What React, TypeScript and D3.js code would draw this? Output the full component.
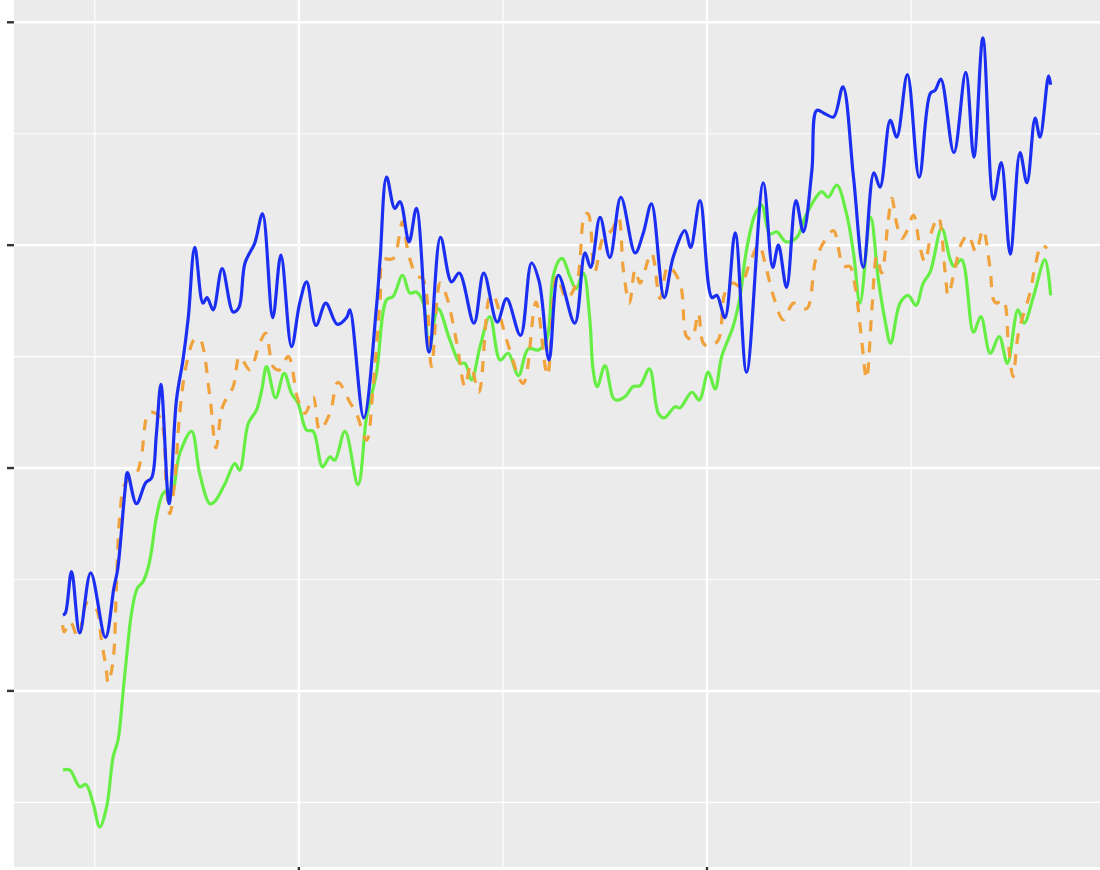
import * as d3 from "d3";

const WIDTH = 1100;
const HEIGHT = 870;
const MARGIN = { top: 0, right: 0, bottom: 3, left: 14 };

// axis breaks (the panel carries no labels, only ticks)
const X_MAJOR = [100, 200];
const X_MINOR = [50, 150, 250];
const Y_MAJOR = [40, 60, 80, 100];
const Y_MINOR = [30, 50, 70, 90];
const X_DOMAIN = [30.2, 296.3];
const Y_DOMAIN = [24.2, 102.0];

// series 1 (blue, solid)
const blueX = [42.2, 42.8, 44.3, 46.3, 49.0, 52.6, 54.7, 55.6, 57.4, 58.0, 60.2, 62.5, 63.9, 65.1, 66.2, 68.2, 70.0, 71.6, 72.9, 74.5, 76.5, 77.5, 79.0, 81.2, 83.9, 85.3, 86.8, 89.2, 91.1, 93.6, 95.6, 98.2, 100.2, 101.9, 104.2, 106.6, 109.4, 111.7, 112.5, 115.9, 119.0, 119.9, 121.5, 123.5, 124.8, 127.0, 128.8, 131.9, 134.7, 137.4, 139.3, 142.9, 145.3, 148.6, 150.9, 154.3, 157.0, 158.9, 161.3, 163.6, 167.6, 170.1, 171.5, 173.8, 176.2, 178.9, 182.4, 184.4, 186.4, 189.5, 191.7, 194.6, 196.0, 198.3, 201.2, 202.4, 204.4, 206.9, 209.7, 213.8, 216.1, 217.5, 219.5, 221.8, 223.6, 225.7, 226.9, 228.9, 231.0, 233.3, 235.9, 238.3, 240.9, 242.4, 244.9, 246.5, 249.1, 252.0, 254.7, 255.9, 257.3, 260.5, 263.4, 265.4, 267.6, 270.2, 272.1, 274.3, 276.7, 278.4, 280.4, 281.6, 283.7, 284.2];
const blueY = [46.8, 47.0, 50.7, 45.2, 50.6, 44.8, 49.3, 50.9, 58.0, 59.6, 56.8, 58.7, 59.1, 63.1, 67.5, 56.8, 66.1, 69.7, 73.5, 79.8, 74.8, 75.3, 74.2, 77.9, 74.0, 74.4, 78.4, 80.2, 82.8, 73.5, 79.1, 70.9, 74.8, 76.7, 72.8, 74.8, 72.9, 73.5, 74.2, 64.5, 74.4, 78.7, 86.1, 83.3, 83.9, 80.3, 83.3, 70.4, 80.7, 76.7, 77.5, 73.0, 77.5, 73.1, 75.2, 71.9, 78.4, 76.7, 69.7, 77.3, 73.0, 79.3, 78.0, 82.5, 78.9, 84.3, 79.3, 81.1, 83.7, 75.3, 78.9, 81.3, 79.8, 84.0, 75.3, 75.5, 73.5, 81.1, 68.6, 85.6, 78.0, 80.0, 76.2, 84.0, 81.2, 86.7, 92.1, 91.8, 91.5, 94.2, 86.1, 78.0, 86.5, 85.2, 91.2, 89.7, 95.3, 86.1, 93.6, 93.9, 94.9, 88.3, 95.5, 87.9, 98.6, 84.1, 87.4, 79.2, 88.3, 85.6, 91.4, 89.7, 95.2, 94.4];

// series 2 (orange, dashed)
const orangeX = [42.1, 42.5, 44.0, 45.9, 48.1, 50.4, 51.6, 52.7, 53.3, 54.5, 55.3, 56.1, 57.4, 60.2, 61.4, 62.7, 63.5, 65.9, 67.6, 68.4, 69.6, 70.8, 72.5, 74.5, 75.7, 78.2, 79.7, 81.3, 83.9, 85.5, 88.0, 90.4, 91.9, 93.7, 95.2, 97.4, 99.8, 101.5, 103.5, 105.1, 107.6, 109.6, 112.5, 114.1, 116.6, 118.2, 119.9, 120.7, 123.1, 125.4, 126.8, 128.8, 130.5, 132.5, 134.6, 136.2, 138.7, 140.7, 142.1, 144.1, 146.8, 147.6, 150.9, 155.0, 158.1, 160.9, 163.2, 165.6, 168.1, 170.1, 170.9, 172.5, 174.6, 176.6, 178.3, 179.5, 181.0, 182.4, 183.6, 186.4, 188.5, 190.5, 193.4, 195.0, 196.3, 197.9, 199.1, 200.7, 202.8, 204.4, 206.4, 208.1, 210.5, 212.7, 214.6, 216.3, 218.7, 221.2, 224.4, 226.9, 231.0, 232.2, 233.4, 235.0, 236.3, 237.9, 239.1, 240.4, 241.6, 242.8, 244.4, 245.3, 246.5, 247.7, 248.9, 250.6, 252.2, 253.4, 255.1, 256.7, 258.3, 259.1, 260.7, 262.4, 264.0, 265.9, 267.6, 269.4, 270.2, 271.0, 272.6, 273.9, 275.0, 276.3, 279.2, 280.4, 282.0, 283.3];
const orangeY = [45.9, 45.3, 46.2, 44.8, 47.9, 47.3, 44.6, 42.2, 40.7, 42.8, 49.4, 55.6, 58.6, 59.5, 61.0, 64.6, 65.0, 64.6, 58.0, 55.9, 58.9, 64.9, 69.4, 71.6, 71.6, 66.4, 61.8, 65.5, 67.3, 70.0, 68.8, 71.2, 72.1, 69.1, 68.8, 70.0, 66.1, 64.9, 66.4, 63.4, 64.9, 67.7, 65.9, 64.9, 62.5, 67.3, 75.1, 78.7, 78.8, 82.1, 79.3, 77.3, 76.9, 69.1, 76.6, 75.4, 71.2, 67.3, 69.2, 66.8, 75.4, 75.5, 71.5, 67.6, 74.9, 68.3, 77.2, 75.2, 76.7, 82.8, 82.8, 77.6, 80.7, 81.3, 82.5, 77.8, 74.8, 77.8, 76.6, 79.3, 75.2, 78.1, 76.6, 71.8, 71.6, 73.9, 71.2, 70.9, 71.5, 75.7, 76.6, 76.3, 78.4, 80.0, 77.8, 75.4, 73.3, 74.8, 74.3, 79.0, 81.3, 79.7, 78.1, 78.1, 76.3, 71.5, 68.0, 74.2, 79.0, 77.5, 82.2, 84.2, 81.9, 80.6, 81.2, 82.7, 79.8, 78.5, 81.3, 82.5, 77.8, 75.5, 77.8, 80.2, 80.9, 79.4, 81.4, 77.8, 75.1, 74.8, 75.1, 70.9, 68.2, 72.1, 75.8, 78.1, 80.0, 79.7];

// series 3 (green, solid)
const greenX = [42.2, 43.9, 46.3, 47.8, 49.6, 51.2, 52.9, 54.5, 55.7, 56.9, 57.8, 59.0, 60.4, 61.8, 63.1, 63.9, 65.1, 66.7, 68.0, 68.9, 70.8, 73.7, 75.7, 78.2, 79.4, 81.9, 84.3, 85.5, 87.6, 89.6, 90.9, 92.1, 94.3, 96.4, 98.2, 99.8, 101.9, 103.5, 105.8, 107.6, 108.8, 111.3, 114.5, 116.6, 119.0, 121.5, 123.1, 125.4, 127.2, 128.8, 130.5, 131.9, 134.1, 137.0, 139.5, 140.7, 142.3, 144.4, 146.8, 149.3, 151.3, 153.8, 156.2, 158.7, 160.7, 162.3, 163.9, 164.6, 166.4, 167.9, 169.7, 171.3, 172.1, 173.1, 175.0, 177.0, 177.9, 179.9, 181.9, 183.6, 185.9, 188.1, 189.5, 192.2, 193.4, 196.3, 198.1, 200.3, 202.0, 203.6, 206.4, 208.1, 209.7, 211.8, 213.4, 215.4, 217.1, 219.4, 222.0, 224.4, 228.1, 229.7, 231.8, 234.2, 235.9, 237.5, 240.1, 242.0, 243.6, 245.0, 247.3, 249.3, 251.2, 253.0, 254.7, 257.5, 259.6, 260.5, 262.4, 265.3, 267.1, 269.4, 271.6, 273.6, 276.2, 277.7, 280.0, 282.8, 284.2];
const greenY = [32.9, 32.9, 31.4, 31.6, 29.9, 27.8, 29.6, 34.1, 35.6, 39.8, 43.1, 47.0, 49.2, 49.8, 51.1, 52.6, 55.6, 57.7, 58.0, 57.8, 61.3, 63.3, 59.5, 56.8, 57.0, 58.6, 60.4, 59.8, 64.0, 65.2, 67.0, 69.1, 66.3, 68.5, 66.7, 65.8, 63.4, 63.3, 60.1, 61.0, 60.7, 63.3, 58.5, 64.6, 68.5, 75.1, 75.4, 77.3, 75.7, 75.8, 74.8, 70.6, 74.3, 71.5, 69.4, 69.4, 67.9, 70.9, 73.6, 69.7, 70.3, 68.3, 70.7, 70.6, 71.5, 77.2, 78.7, 78.8, 77.2, 76.1, 77.5, 73.3, 68.8, 67.3, 69.2, 66.3, 66.1, 66.4, 67.3, 67.4, 68.9, 64.9, 64.5, 65.5, 65.4, 66.8, 66.1, 68.6, 67.1, 70.0, 72.7, 75.4, 79.6, 82.8, 83.6, 81.0, 81.2, 80.3, 80.7, 82.8, 84.8, 84.3, 85.4, 82.8, 79.3, 74.8, 82.5, 76.9, 73.3, 71.2, 74.8, 75.5, 74.6, 76.6, 77.6, 81.5, 78.7, 78.1, 78.7, 72.2, 73.6, 70.3, 71.8, 69.4, 74.2, 73.0, 75.4, 78.7, 75.5];

const SERIES = [
  { name: "green", xs: greenX, ys: greenY, color: "#66EE44", dash: undefined },
  { name: "orange", xs: orangeX, ys: orangeY, color: "#F0A23C", dash: "11 10" },
  { name: "blue", xs: blueX, ys: blueY, color: "#1B2FF2", dash: undefined },
];

export default function App() {
  const boundsWidth = WIDTH - MARGIN.left - MARGIN.right;
  const boundsHeight = HEIGHT - MARGIN.top - MARGIN.bottom;

  const xScale = d3.scaleLinear().domain(X_DOMAIN).range([0, boundsWidth]);
  const yScale = d3.scaleLinear().domain(Y_DOMAIN).range([boundsHeight, 0]);

  const lineBuilder = d3
    .line<[number, number]>()
    .x((d) => xScale(d[0]))
    .y((d) => yScale(d[1]))
    .curve(d3.curveCatmullRom.alpha(0.5));

  return (
    <svg
      width={WIDTH}
      height={HEIGHT}
      style={{ position: "absolute", left: 0, top: 0 }}
    >
      <g transform={`translate(${MARGIN.left},${MARGIN.top})`}>
        <rect x={0} y={0} width={boundsWidth} height={boundsHeight} fill="#EBEBEB" />
        {/* minor grid */}
        {Y_MINOR.map((v) => (
          <line key={"ym" + v} x1={0} x2={boundsWidth} y1={yScale(v)} y2={yScale(v)} stroke="#FFFFFF" strokeWidth={1.2} />
        ))}
        {X_MINOR.map((v) => (
          <line key={"xm" + v} x1={xScale(v)} x2={xScale(v)} y1={0} y2={boundsHeight} stroke="#FFFFFF" strokeWidth={1.2} />
        ))}
        {/* major grid */}
        {Y_MAJOR.map((v) => (
          <line key={"yM" + v} x1={0} x2={boundsWidth} y1={yScale(v)} y2={yScale(v)} stroke="#FFFFFF" strokeWidth={2.4} />
        ))}
        {X_MAJOR.map((v) => (
          <line key={"xM" + v} x1={xScale(v)} x2={xScale(v)} y1={0} y2={boundsHeight} stroke="#FFFFFF" strokeWidth={2.4} />
        ))}
        {/* series */}
        {SERIES.map((s) => {
          const pts = s.xs.map((x, i) => [x, s.ys[i]] as [number, number]);
          return (
            <path
              key={s.name}
              d={lineBuilder(pts) ?? ""}
              fill="none"
              stroke={s.color}
              strokeWidth={3.2}
              strokeDasharray={s.dash}
              strokeLinejoin="round"
            />
          );
        })}
        {/* ticks */}
        {Y_MAJOR.map((v) => (
          <line key={"yt" + v} x1={-7} x2={0} y1={yScale(v)} y2={yScale(v)} stroke="#333333" strokeWidth={2.4} />
        ))}
        {X_MAJOR.map((v) => (
          <line key={"xt" + v} x1={xScale(v)} x2={xScale(v)} y1={boundsHeight} y2={boundsHeight + 7} stroke="#333333" strokeWidth={2.4} />
        ))}
      </g>
    </svg>
  );
}
